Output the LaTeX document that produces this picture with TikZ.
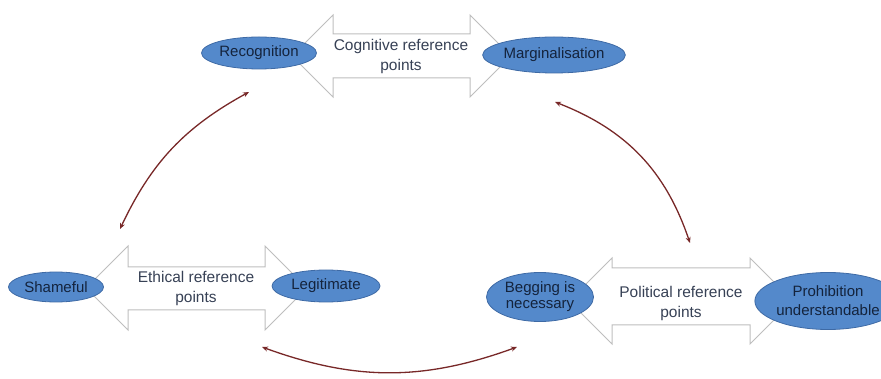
\documentclass[tikz,border=0pt]{standalone}
\usepackage{fontspec}
\setmainfont{Liberation Sans}
\usetikzlibrary{shapes.geometric,arrows.meta}
\definecolor{ellfill}{RGB}{84,137,203}
\definecolor{elldraw}{RGB}{62,106,165}
\definecolor{elltext}{RGB}{20,35,60}
\definecolor{arrtext}{RGB}{55,65,85}
\definecolor{arrline}{RGB}{190,190,190}
\definecolor{curvecol}{RGB}{120,40,40}
\begin{document}
\begin{tikzpicture}[x=1pt,y=-1pt,
  pole/.style={ellipse,fill=ellfill,draw=elldraw,line width=0.8pt,inner sep=0pt,
    font=\fontsize{15}{17}\selectfont,text=elltext,align=center},
  blockarrow/.style={draw=arrline,fill=white,line width=1pt,line join=miter},
  arrlabel/.style={font=\fontsize{15.5}{20}\selectfont,text=arrtext,align=center,inner sep=0pt},
  link/.style={draw=curvecol,line width=1.3pt,{Stealth[length=6pt,width=5pt]}-{Stealth[length=6pt,width=5pt]}}
]
\useasboundingbox (0,0) rectangle (881,379);

% block double arrows
\draw[blockarrow] (292,56) -- (333,15) -- (333,34) -- (470,34) -- (470,15) -- (511,56)
  -- (470,97) -- (470,78) -- (333,78) -- (333,97) -- cycle;
\draw[blockarrow] (86,288) -- (128,246) -- (128,267) -- (265,267) -- (265,246) -- (307,288)
  -- (265,330) -- (265,310) -- (128,310) -- (128,330) -- cycle;
\draw[blockarrow] (569,301) -- (612,258) -- (612,268) -- (750,268) -- (750,258) -- (793,301)
  -- (750,344) -- (750,325) -- (612,325) -- (612,344) -- cycle;

% arrow labels
\node[arrlabel] (cog) at (401,56) {Cognitive reference\\points};
\node[arrlabel] (eth) at (196,288) {Ethical reference\\points};
\node[arrlabel] (pol) at (681,303) {Political reference\\points};

% poles
\node[pole,minimum width=115pt,minimum height=32pt] (rec) at (259,53) {Recognition};
\node[pole,minimum width=138pt,minimum height=36pt] (mar) at (554,55) {Marginalisation};
\node[pole,minimum width=95pt,minimum height=30pt] (sha) at (56,287) {Shameful};
\node[pole,minimum width=108pt,minimum height=32pt] (leg) at (326,286) {Legitimate};
\node[pole,minimum width=107pt,minimum height=49pt,font=\fontsize{15}{16}\selectfont] (beg) at (540,297) {Begging is\\necessary};
\node[pole,minimum width=125pt,minimum height=57pt,font=\fontsize{15}{19}\selectfont] (pro) at (828,301) {Prohibition\\understandable};

% curved links
\coordinate (c1a) at (120,229);
\coordinate (c1b) at (249,92);
\coordinate (c2a) at (555,102);
\coordinate (c2b) at (690,243);
\coordinate (c3a) at (262,347);
\coordinate (c3b) at (517,347);
\draw[link] (c1a) to[bend left=18] (c1b);
\draw[link] (c2a) to[bend left=25] (c2b);
\draw[link] (c3a) to[bend right=20] (c3b);
\end{tikzpicture}
\end{document}
